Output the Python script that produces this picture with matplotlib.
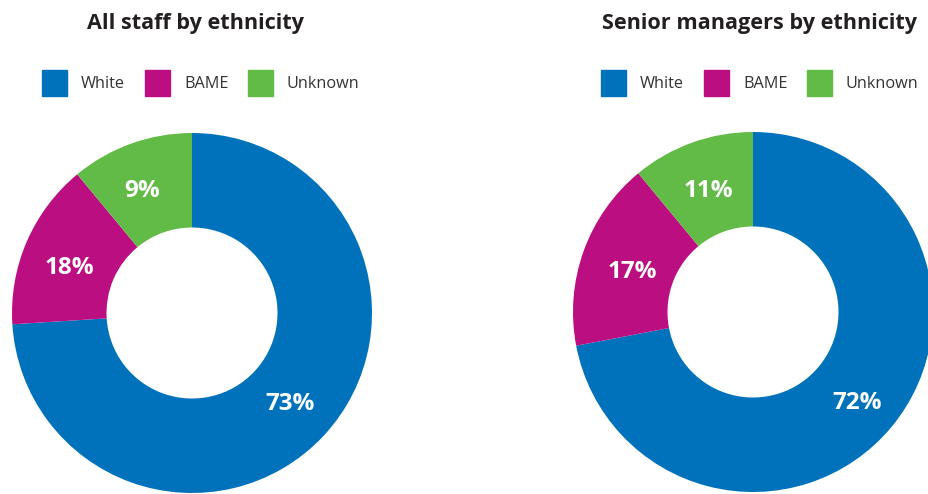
import matplotlib
matplotlib.use('Agg')
import numpy as np
import matplotlib.pyplot as plt
from matplotlib.patches import Rectangle

plt.rcParams['font.family'] = ['Open Sans', 'DejaVu Sans']

# data
categories = ['White', 'BAME', 'Unknown']
colors = ['#0072BB', '#BB0E80', '#62BB46']

all_staff_share = [74, 15, 11]          # slice sizes as drawn
all_staff_labels = ['73%', '18%', '9%']  # labels as printed

senior_share = [72, 17, 11]
senior_labels = ['72%', '17%', '11%']

W, H = 929, 494
fig = plt.figure(figsize=(W / 100, H / 100), dpi=100)


def fx(x):
    return x / W


def fy(y):
    return 1 - y / H


def donut(cx, cy, r, share, labels, nudge):
    ax = fig.add_axes([fx(cx - r), fy(cy + r), 2 * r / W, 2 * r / H])
    wedges, _ = ax.pie(share, colors=colors, startangle=90, counterclock=False,
                       radius=1, wedgeprops=dict(width=0.525, linewidth=0))
    ax.set_xlim(-1, 1)
    ax.set_ylim(-1, 1)
    ax.set_aspect('equal')
    ax.axis('off')
    for w, lab, (ndx, ndy) in zip(wedges, labels, nudge):
        w.set_clip_on(False)
        a = np.deg2rad((w.theta1 + w.theta2) / 2)
        # label at the middle of the ring, nudged a few pixels
        x = 0.735 * np.cos(a) + ndx / r
        y = 0.735 * np.sin(a) - ndy / r
        ax.text(x, y, lab, color='white', fontsize=17.5, fontweight='bold',
                ha='center', va='center')


def legend(x0, y0, gap):
    x = x0
    for cat, col in zip(categories, colors):
        fig.patches.append(Rectangle((fx(x), fy(y0 + 13)), 25 / W, 26 / H,
                                     color=col, transform=fig.transFigure))
        fig.text(fx(x + 39), fy(y0 + 1), cat, fontsize=11.7, color='#333333',
                 ha='left', va='center')
        x += gap


donut(192, 313, 180, all_staff_share, all_staff_labels,
      [(2, 0), (-1, 8), (-5, 2)])
donut(753, 312, 180, senior_share, senior_labels,
      [(2, 7), (4, 5), (0, 3)])

fig.text(fx(195.5), fy(23), 'All staff by ethnicity', fontsize=15.6,
         fontweight='bold', color='#231F20', ha='center', va='center')
fig.text(fx(759.5), fy(23), 'Senior managers by ethnicity', fontsize=15.6,
         fontweight='bold', color='#231F20', ha='center', va='center')

legend(42, 83, 103)
legend(601, 83, 103)

fig.savefig('out.png', dpi=100)
